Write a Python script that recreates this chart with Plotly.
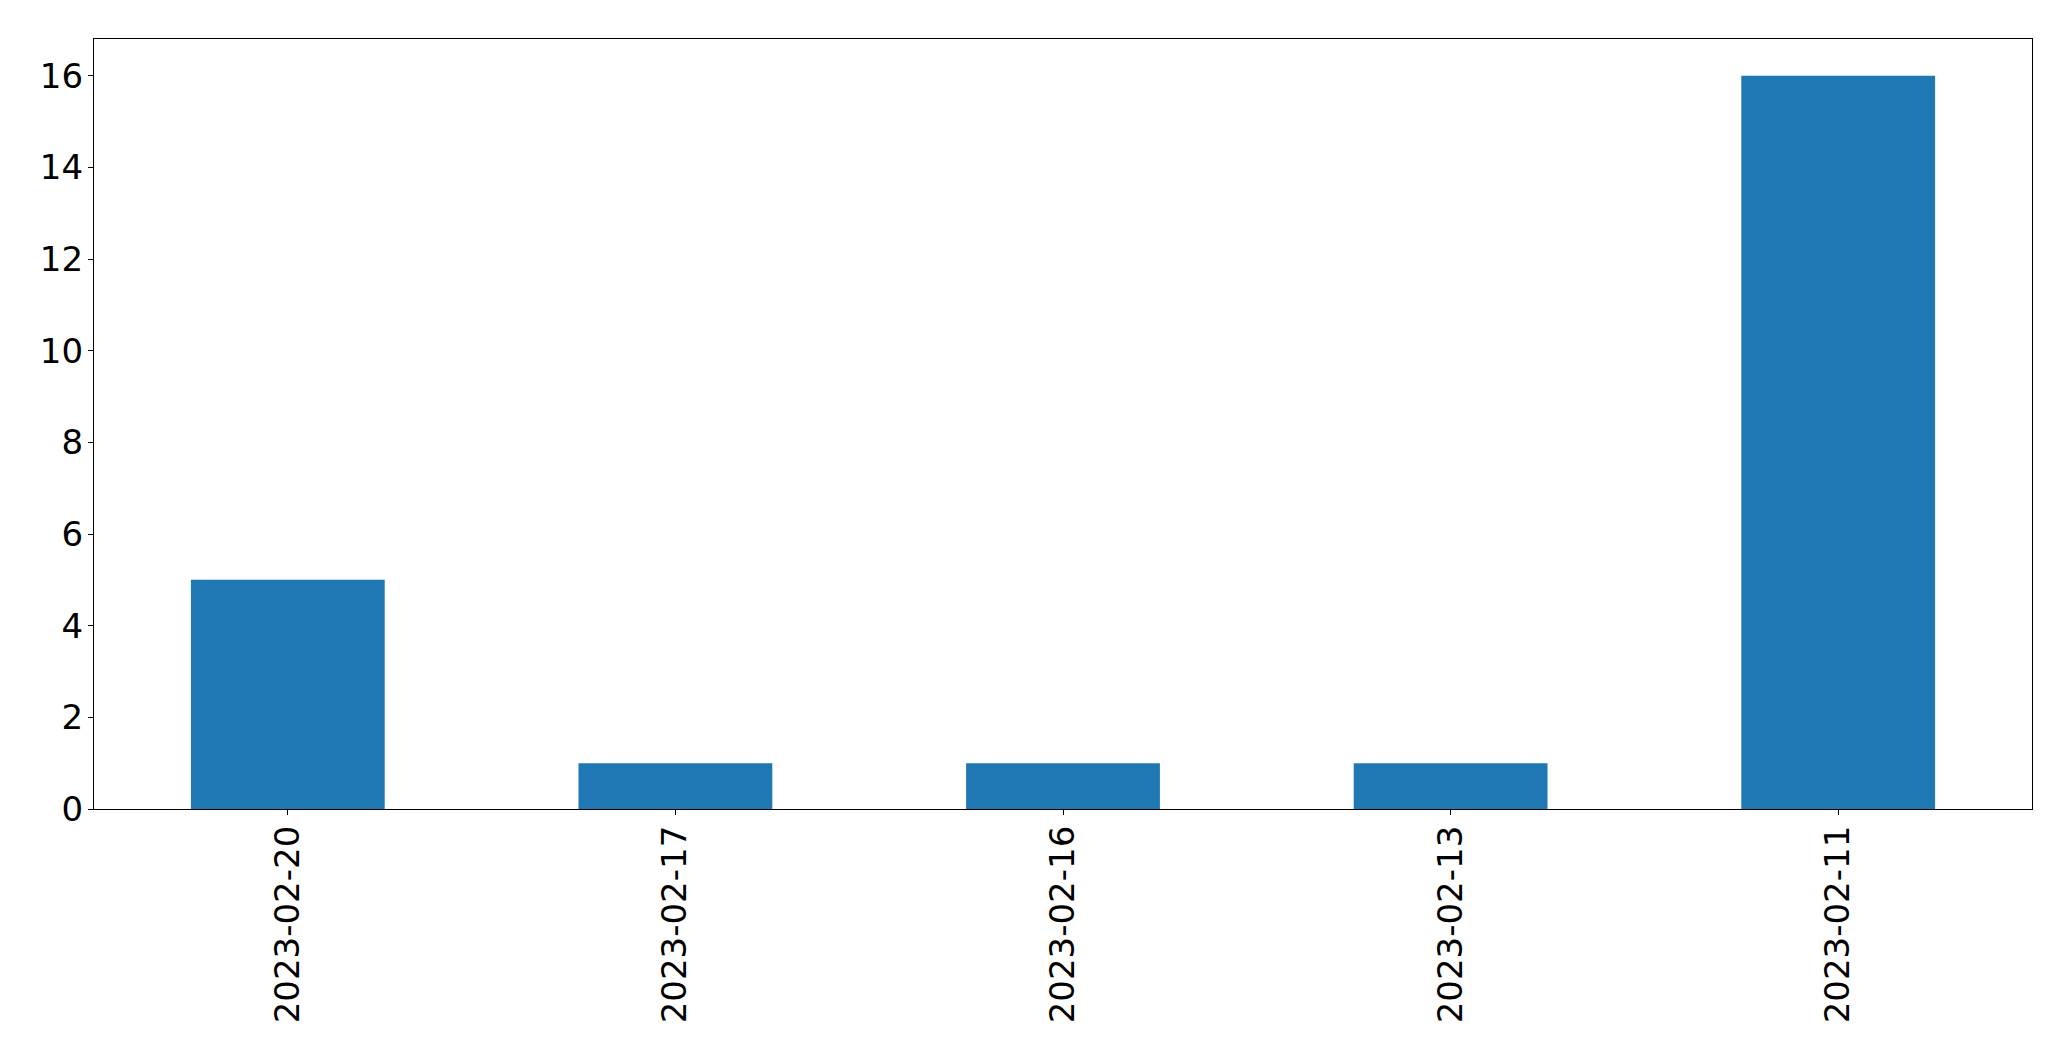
import plotly.graph_objects as go

dates = ["2023-02-20", "2023-02-17", "2023-02-16", "2023-02-13", "2023-02-11"]
counts = [5, 1, 1, 1, 16]
y_ticks = [0, 2, 4, 6, 8, 10, 12, 14, 16]

fig = go.Figure(
    go.Bar(x=dates, y=counts, width=0.5, marker=dict(color="#1f77b4", line=dict(width=0)))
)

font = dict(family="DejaVu Sans", size=34, color="black")
fig.update_layout(
    width=2055,
    height=1045,
    margin=dict(l=86, r=31, t=31, b=244),
    plot_bgcolor="white",
    paper_bgcolor="white",
    showlegend=False,
    font=font,
)
fig.update_xaxes(
    type="category",
    range=[-0.5, 4.5],
    tickangle=-90,
    ticks="outside",
    ticklen=5,
    tickwidth=1.3,
    tickcolor="black",
    showline=True,
    linecolor="black",
    linewidth=1.3,
    mirror=True,
    showgrid=False,
    tickfont=font,
    ticklabelstandoff=-3,
)
fig.update_yaxes(
    range=[0, 16.8],
    tickvals=y_ticks,
    ticks="outside",
    ticklen=5,
    tickwidth=1.3,
    tickcolor="black",
    showline=True,
    linecolor="black",
    linewidth=1.3,
    mirror=True,
    showgrid=False,
    zeroline=False,
    tickfont=font,
    ticklabelstandoff=-2,
)

fig.write_html("out.html")
